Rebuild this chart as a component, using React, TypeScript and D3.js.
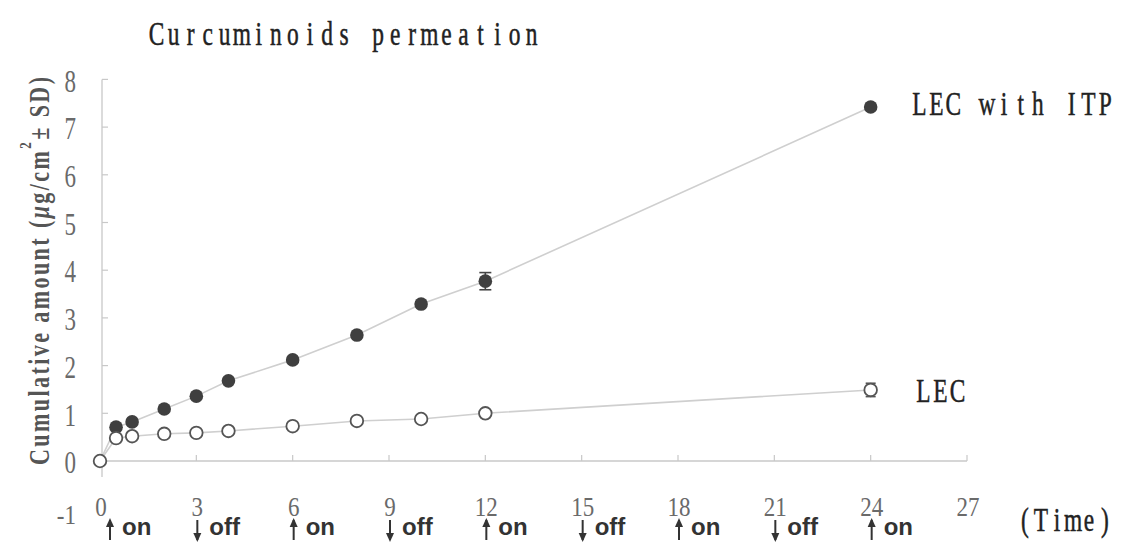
import React from "react";
import * as d3 from "d3";

const hours = [0, 0.5, 1, 2, 3, 4, 6, 8, 10, 12, 24];
const itpValues = [0, 0.71, 0.82, 1.09, 1.36, 1.68, 2.12, 2.64, 3.29, 3.77, 7.42];
const itpSD = [0, 0, 0, 0, 0, 0, 0, 0, 0.04, 0.18, 0];
const lecValues = [0, 0.48, 0.52, 0.57, 0.59, 0.63, 0.73, 0.84, 0.88, 1.0, 1.49];
const lecSD = [0, 0, 0, 0, 0, 0, 0, 0, 0, 0, 0.14];
const xTicks = [0, 3, 6, 9, 12, 15, 18, 21, 24, 27];
const yTicks = [-1, 0, 1, 2, 3, 4, 5, 6, 7, 8];
const switchTimes = [0, 3, 6, 9, 12, 15, 18, 21, 24];
const switchStates = ["on", "off", "on", "off", "on", "off", "on", "off", "on"];
const titleText = "Curcuminoids permeation";
const seriesNames = ["LEC with ITP", "LEC"];
const xAxisName = "(Time)";

const W = 1121;
const H = 544;
const serif = "'Liberation Serif', 'Times New Roman', serif";
const sans = "'Liberation Sans', Arial, sans-serif";

function MonoText({ x, y, text, adv, size = 30, sx = 0.78, sy = 1.15, fill = "#222" }: any) {
  const xs = text.split("").map((_: string, i: number) => ((x + adv * (i + 0.5)) / sx).toFixed(2));
  return (
    <text
      transform={`translate(0,${y}) scale(${sx},${sy})`}
      x={xs.join(" ")}
      y={0}
      textAnchor="middle"
      fontFamily={serif}
      fontSize={size}
      fill={fill}
      stroke={fill}
      strokeWidth={0.45}
      style={{ whiteSpace: "pre" }}
    >
      {text}
    </text>
  );
}

export default function App() {
  const x = d3.scaleLinear().domain([0, 27]).range([100, 967]);
  const y = d3.scaleLinear().domain([0, 8]).range([461, 79.4]);
  const line = d3
    .line<number>()
    .x((_, i) => x(hours[i]))
    .y((d) => y(d));

  const axisColor = "#c8c8c8";
  const r = 6.8;
  const tickFill = "#6a6a6a";

  return (
    <svg
      width={W}
      height={H}
      style={{ position: "absolute", left: 0, top: 0, background: "#fff" }}
    >
      {/* title */}
      <MonoText x={148} y={45} text={titleText} adv={17.05} />

      {/* axes */}
      <line x1={102} x2={102} y1={y(8)} y2={477} stroke={axisColor} strokeWidth={1.3} />
      <line x1={102} x2={x(27)} y1={y(0)} y2={y(0)} stroke={axisColor} strokeWidth={1.3} />
      {yTicks
        .filter((v) => v > 0)
        .map((v) => (
          <line key={"yt" + v} x1={102} x2={108} y1={y(v)} y2={y(v)} stroke={axisColor} strokeWidth={1.2} />
        ))}
      {xTicks
        .filter((t) => t > 0)
        .map((t) => (
          <line key={"xt" + t} x1={x(t)} x2={x(t)} y1={y(0)} y2={y(0) - 6} stroke={axisColor} strokeWidth={1.2} />
        ))}

      {/* y tick labels */}
      {yTicks.map((v) => (
        <text
          key={"yl" + v}
          transform={`translate(76,${y(v) + (v < 0 ? 6 : 2)}) scale(1,${v < 0 ? 1.15 : 1.35})`}
          textAnchor="end"
          dominantBaseline="central"
          fontFamily={serif}
          fontSize={23}
          fill={tickFill}
        >
          {v}
        </text>
      ))}

      {/* x tick labels */}
      {xTicks.map((t) => (
        <text
          key={"xl" + t}
          transform={`translate(${x(t) + 1},${y(-1) - 2}) scale(1,1.15)`}
          textAnchor="middle"
          dominantBaseline="central"
          fontFamily={serif}
          fontSize={23}
          fill={tickFill}
        >
          {t}
        </text>
      ))}

      {/* on/off switch labels */}
      {switchTimes.map((t, i) => {
        const ax = t === 0 ? x(t) + 10 : x(t) + 1;
        const up = switchStates[i] === "on";
        const top = 518;
        const bot = 542;
        return (
          <g key={"sw" + t}>
            <line x1={ax} x2={ax} y1={top + 2} y2={bot - 2} stroke="#333" strokeWidth={2} />
            {up ? (
              <path d={`M${ax - 4},${top + 9} L${ax},${top} L${ax + 4},${top + 9} Z`} fill="#333" />
            ) : (
              <path d={`M${ax - 4},${bot - 9} L${ax},${bot} L${ax + 4},${bot - 9} Z`} fill="#333" />
            )}
            <text x={ax + 12} y={535} fontFamily={sans} fontWeight="bold" fontSize={24} fill="#333">
              {switchStates[i]}
            </text>
          </g>
        );
      })}

      {/* axis title */}
      <text
        transform={`translate(49, 271) rotate(-90) scale(1,1.35)`}
        textAnchor="middle"
        fontFamily={serif}
        fontWeight="bold"
        fontSize={22}
        fill="#555"
        textLength={388}
        lengthAdjust="spacing"
      >
        Cumulative amount (
        <tspan fontStyle="italic">μ</tspan>
        g/cm
        <tspan fontSize={13} dy={-13}>2</tspan>
        <tspan dy={13}>± SD)</tspan>
      </text>

      {/* lines */}
      <path d={line(itpValues) || ""} fill="none" stroke="#cfcfcf" strokeWidth={1.6} />
      <path d={line(lecValues) || ""} fill="none" stroke="#cfcfcf" strokeWidth={1.6} />

      {/* error bars */}
      {hours.map((h, i) =>
        itpSD[i] > 0 ? (
          <g key={"ie" + i} stroke="#444" strokeWidth={1.6}>
            <line x1={x(h)} x2={x(h)} y1={y(itpValues[i] - itpSD[i])} y2={y(itpValues[i] + itpSD[i])} />
            <line x1={x(h) - 6} x2={x(h) + 6} y1={y(itpValues[i] - itpSD[i])} y2={y(itpValues[i] - itpSD[i])} />
            <line x1={x(h) - 6} x2={x(h) + 6} y1={y(itpValues[i] + itpSD[i])} y2={y(itpValues[i] + itpSD[i])} />
          </g>
        ) : null
      )}
      {hours.map((h, i) =>
        lecSD[i] > 0 ? (
          <g key={"le" + i} stroke="#555" strokeWidth={1.6}>
            <line x1={x(h) - 5} x2={x(h) + 5} y1={y(lecValues[i] - lecSD[i])} y2={y(lecValues[i] - lecSD[i])} />
            <line x1={x(h) - 5} x2={x(h) + 5} y1={y(lecValues[i] + lecSD[i])} y2={y(lecValues[i] + lecSD[i])} />
          </g>
        ) : null
      )}

      {/* markers */}
      {hours.map((h, i) =>
        h > 0 ? <circle key={"ip" + i} cx={x(h)} cy={y(itpValues[i])} r={r} fill="#3f3f3f" /> : null
      )}
      {hours.map((h, i) => (
        <circle key={"lp" + i} cx={x(h)} cy={y(lecValues[i])} r={r - 0.5} fill="#fff" stroke="#555" strokeWidth={1.8} />
      ))}

      {/* series labels */}
      <MonoText x={911} y={115} text={seriesNames[0]} adv={16.9} />
      <MonoText x={915} y={402} text={seriesNames[1]} adv={17} />
      <MonoText x={1017} y={531} text={xAxisName} adv={16} />
    </svg>
  );
}
